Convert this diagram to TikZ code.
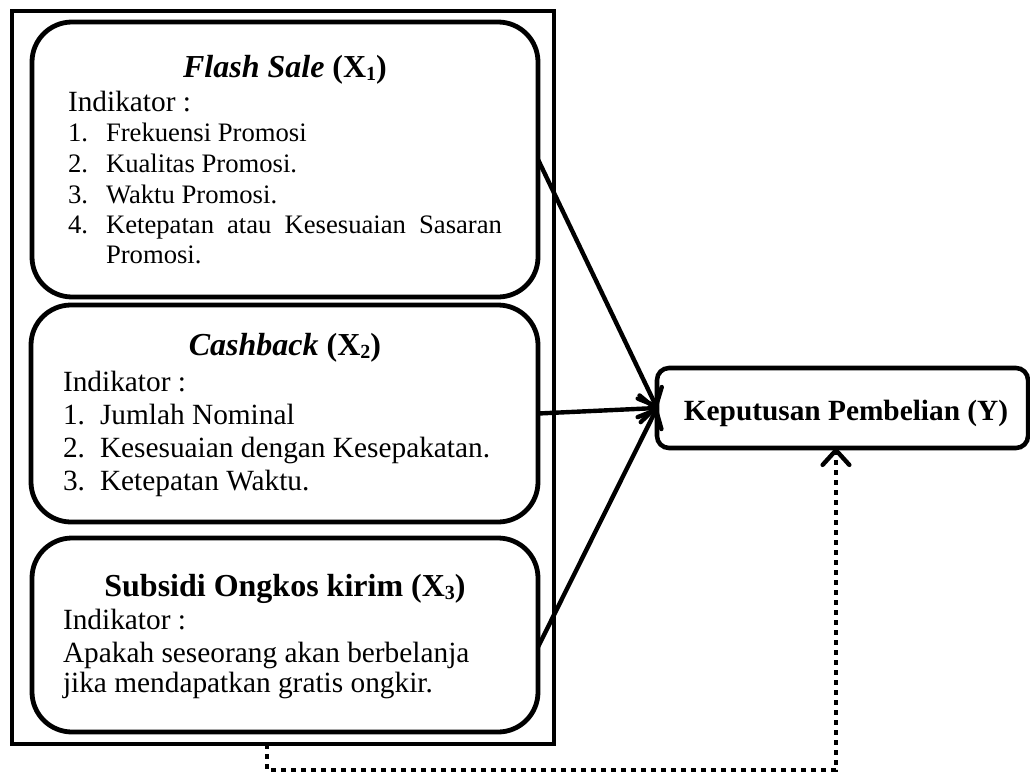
\documentclass[tikz,border=0pt]{standalone}
\usepackage{fontspec}
\setmainfont{Liberation Serif}
\usetikzlibrary{arrows.meta,calc}
\newcommand{\subdig}[1]{\raisebox{-0.1em}{\fontsize{15pt}{15pt}\selectfont #1}}
\begin{document}
\begin{tikzpicture}[x=0.75pt,y=-0.75pt,
  every node/.style={inner sep=0pt,outer sep=0pt},
  frame/.style={draw,line width=3.6pt,rectangle},
  ibox/.style={draw,line width=3.6pt,rounded corners=30pt,rectangle},
  ybx/.style={draw,line width=3.4pt,rounded corners=9pt,rectangle},
  body/.style={font=\fontsize{22pt}{24pt}\selectfont,anchor=base west},
  small/.style={font=\fontsize{20pt}{22pt}\selectfont,anchor=base west},
  ttl/.style={font=\fontsize{24pt}{26pt}\selectfont\bfseries,anchor=base},
  yttl/.style={font=\fontsize{22pt}{24pt}\selectfont\bfseries,anchor=base},
  arr/.style={line width=3.3pt,-{Straight Barb[length=11pt,width=20pt,line cap=round,line join=round]}},
  dotln/.style={line width=3.6pt,dash pattern=on 4pt off 3.5pt,-{Straight Barb[length=11pt,width=20pt,line cap=round,line join=round,line width=3.3pt]}}]
\useasboundingbox (0,0) rectangle (1030,774);

% containers
\node[frame,minimum width=406.5pt,minimum height=549.75pt] (outer) at (283,377.5) {};
\node[ibox,minimum width=379.5pt,minimum height=206.25pt] (box1) at (285,159.5) {};
\node[ibox,minimum width=380.25pt,minimum height=162.75pt] (box2) at (284.5,413.5) {};
\node[ibox,minimum width=379.5pt,minimum height=145.5pt] (box3) at (285,635) {};
\node[ybx,minimum width=278.25pt,minimum height=60pt] (ybox) at (842.5,408) {};

% box 1 text
\node[ttl] (t1) at (285,77) {\textit{Flash Sale} (X\subdig{1})};
\node[body] (i1) at (68,111) {Indikator :};
\node[small] (n11) at (68,141) {1.};
\node[small] (s11) at (106,141) {Frekuensi Promosi};
\node[small] (n12) at (68,172) {2.};
\node[small] (s12) at (106,172) {Kualitas Promosi.};
\node[small] (n13) at (68,203) {3.};
\node[small] (s13) at (106,203) {Waktu Promosi.};
\node[small] (n14) at (68,233) {4.};
\node[small] (s14) at (106,233) {\makebox[297pt][s]{Ketepatan atau Kesesuaian Sasaran}};
\node[small] (s14b) at (106,263) {Promosi.};

% box 2 text
\node[ttl] (t2) at (285,355) {\textit{Cashback} (X\subdig{2})};
\node[body] (i2) at (63,391) {Indikator :};
\node[body] (n21) at (63,424) {1.};
\node[body] (s21) at (100,424) {Jumlah Nominal};
\node[body] (n22) at (63,457) {2.};
\node[body] (s22) at (100,457) {Kesesuaian dengan Kesepakatan.};
\node[body] (n23) at (63,490) {3.};
\node[body] (s23) at (100,490) {Ketepatan Waktu.};

% box 3 text
\node[ttl] (t3) at (285,596) {Subsidi Ongkos kirim (X\subdig{3})};
\node[body] (i3) at (63,629) {Indikator :};
\node[body] (s31) at (63,662) {Apakah seseorang akan berbelanja};
\node[body] (s32) at (63,692) {jika mendapatkan gratis ongkir.};

% Y text
\node[yttl] (ty) at (846,420) {Keputusan Pembelian (Y)};

% connectors
\draw[arr] (box1.east) -- (ybox.west);
\draw[arr] (box2.east) -- (ybox.west);
\draw[arr] ($(box3.east)+(0,12)$) -- (ybox.west);

\coordinate (d2) at (267,770);
\draw[dotln] (outer.south -| d2) -- (d2) -| ([xshift=-4.9pt]ybox.south);
\end{tikzpicture}
\end{document}
